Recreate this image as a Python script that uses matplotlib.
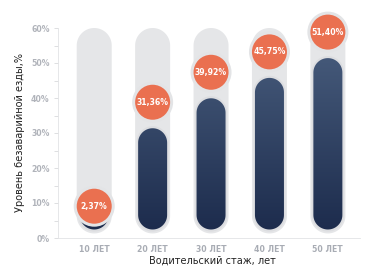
import numpy as np
import matplotlib
matplotlib.use("Agg")
import matplotlib.pyplot as plt
from matplotlib.patches import Polygon, Ellipse
from matplotlib.colors import LinearSegmentedColormap

categories = ["10 ЛЕТ", "20 ЛЕТ", "30 ЛЕТ", "40 ЛЕТ", "50 ЛЕТ"]
values = [2.37, 31.36, 39.92, 45.75, 51.40]
labels = ["2,37%", "31,36%", "39,92%", "45,75%", "51,40%"]
yticks = [0, 10, 20, 30, 40, 50, 60]
ytick_labels = ["0%", "10%", "20%", "30%", "40%", "50%", "60%"]

W, H = 381, 273
fig = plt.figure(figsize=(W / 100, H / 100), dpi=100)
ax_l, ax_r, ax_b, ax_t = 58, 360, 238, 28
ax = fig.add_axes([ax_l / W, 1 - ax_b / H, (ax_r - ax_l) / W, (ax_b - ax_t) / H])
xlim = (-0.62, 4.55)
ylim = (0, 60)
ax.set_xlim(*xlim)
ax.set_ylim(*ylim)
pxx = (ax_r - ax_l) / (xlim[1] - xlim[0])
pxy = (ax_b - ax_t) / (ylim[1] - ylim[0])


def pill_path(xc, ybot, ytop, wpx, n=40):
    hw = wpx / 2 / pxx
    ry = wpx / 2 / pxy
    if ytop - ybot < 2 * ry:
        ytop = ybot + 2 * ry
    t1 = np.linspace(0, np.pi, n)
    top = np.column_stack([xc + hw * np.cos(t1), ytop - ry + ry * np.sin(t1)])
    t2 = np.linspace(np.pi, 2 * np.pi, n)
    bot = np.column_stack([xc + hw * np.cos(t2), ybot + ry + ry * np.sin(t2)])
    return np.vstack([top, bot])


cmap = LinearSegmentedColormap.from_list("bar", ["#1b2a4b", "#4b6080"])
x = np.arange(len(categories))
for i, v in enumerate(values):
    ax.add_patch(Polygon(pill_path(x[i], 1.3, 60, 35), closed=True,
                         fc="#e5e6e8", ec="none", zorder=1, clip_on=False))
    ybot = (ax_b - 229.5) / pxy
    ax.add_patch(Polygon(pill_path(x[i], ybot - 0.6, max(v, ybot) + 0.6, 32), closed=True,
                         fc="#dcdde0", ec="none", zorder=1.5, clip_on=False))
    poly = Polygon(pill_path(x[i], ybot, max(v, ybot), 29), closed=True,
                   fc="none", ec="none", zorder=2)
    ax.add_patch(poly)
    grad = np.linspace(0, 1, 256).reshape(-1, 1)
    im = ax.imshow(grad, cmap=cmap, extent=[x[i] - 0.4, x[i] + 0.4, 0, 60],
                   origin="lower", aspect="auto", zorder=2)
    im.set_clip_path(poly)
    off = 26 if v > 10 else 23.5
    cy = v + off / pxy
    ax.add_patch(Ellipse((x[i], cy), 2 * 20.5 / pxx, 2 * 20.5 / pxy,
                         fc="#e3e4e6", ec="none", zorder=3, clip_on=False))
    ax.add_patch(Ellipse((x[i], cy), 2 * 17.5 / pxx, 2 * 17.5 / pxy,
                         fc="#ea7050", ec="none", zorder=4, clip_on=False))
    ax.text(x[i], cy, labels[i], ha="center", va="center", color="white",
            fontsize=5.6, fontweight="bold", zorder=5, clip_on=False)

ax.set_xticks(x)
ax.set_xticklabels(categories, fontsize=5.6, fontweight="bold", color="#a8acb4")
ax.set_yticks(yticks)
ax.set_yticklabels(ytick_labels, fontsize=5.6, fontweight="bold", color="#b0b3ba")
ax.set_yticks(np.arange(5, 60, 10), minor=True)
ax.tick_params(axis="x", length=0, pad=5)
ax.tick_params(axis="y", which="both", length=3, width=0.6, color="#d8d9dc",
               direction="out", pad=3)
for s in ["top", "right"]:
    ax.spines[s].set_visible(False)
ax.spines["left"].set_color("#e2e3e5")
ax.spines["left"].set_linewidth(0.6)
ax.spines["bottom"].set_color("#e2e3e5")
ax.spines["bottom"].set_linewidth(0.6)
ax.patch.set_alpha(0)

fig.text(20 / W, 1 - 133 / H, "Уровень безаварийной езды,%", rotation=90,
         ha="center", va="center", fontsize=7, color="#222222")
fig.text(212 / W, 1 - 261 / H, "Водительский стаж, лет", ha="center",
         va="center", fontsize=7, color="#222222")

fig.savefig("out.png", dpi=100)
